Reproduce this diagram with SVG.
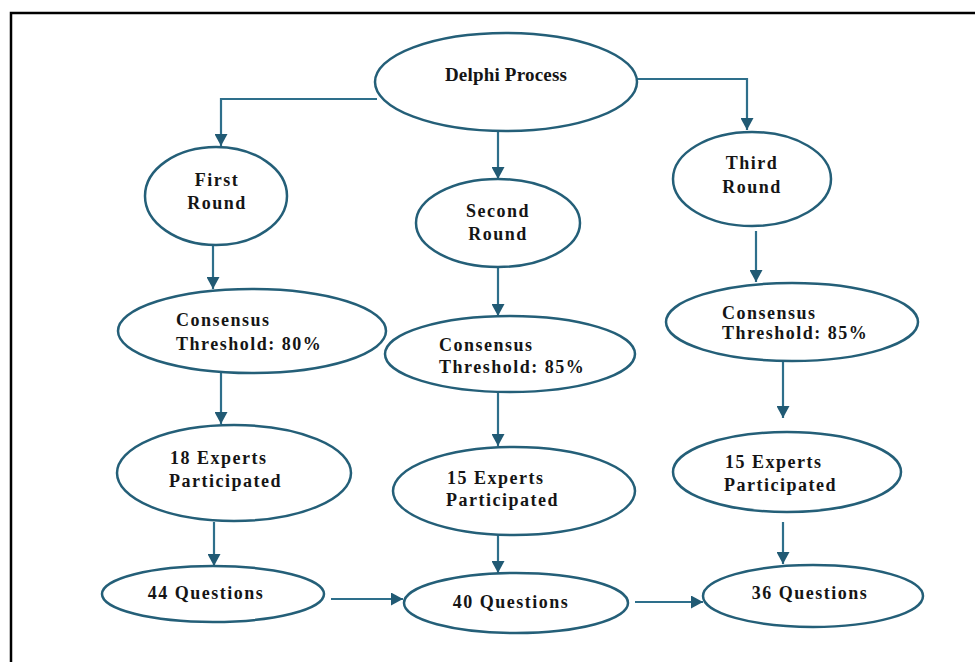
<svg xmlns="http://www.w3.org/2000/svg" width="975" height="662" viewBox="0 0 975 662">
<defs>
<style>
.node ellipse{fill:#fff;stroke:#245f78;stroke-width:2.5}
.node text{font-family:"Liberation Serif","Times New Roman",serif;font-weight:bold;font-size:18px;letter-spacing:1.5px;fill:#151515}
.c{text-anchor:middle}
.edges path{fill:none;stroke:#2e6f8b;stroke-width:2.2}
</style>
<marker id="ah" markerUnits="userSpaceOnUse" markerWidth="13" markerHeight="13" refX="12" refY="6.5" orient="auto">
<path d="M0,0 L12,6.5 L0,13 z" fill="#215a74"/>
</marker>
</defs>
<rect width="975" height="662" fill="#fff"/>
<path d="M11,662 V13 H975" fill="none" stroke="#000" stroke-width="2.5"/>
<g class="edges">
<path d="M377,99 H221 V146" marker-end="url(#ah)"/>
<path d="M498,131 V179" marker-end="url(#ah)"/>
<path d="M636,79 H747 V130" marker-end="url(#ah)"/>
<path d="M213,245 V289" marker-end="url(#ah)"/>
<path d="M221,373 V424" marker-end="url(#ah)"/>
<path d="M214,522 V566" marker-end="url(#ah)"/>
<path d="M498,267 V316" marker-end="url(#ah)"/>
<path d="M498,392 V446" marker-end="url(#ah)"/>
<path d="M498,535 V573" marker-end="url(#ah)"/>
<path d="M756,231 V282" marker-end="url(#ah)"/>
<path d="M783,362 V418" marker-end="url(#ah)"/>
<path d="M783,522 V564" marker-end="url(#ah)"/>
<path d="M331,599 H403" marker-end="url(#ah)"/>
<path d="M635,602 H703" marker-end="url(#ah)"/>
</g>
<g id="delphi" class="node"><ellipse cx="506" cy="82" rx="131" ry="49"/><text class="c" x="506" y="81" style="letter-spacing:0.2px;font-size:19px">Delphi Process</text></g>
<g id="first" class="node"><ellipse cx="216" cy="196" rx="71" ry="49"/><text class="c" x="217" y="186">First</text><text class="c" x="217" y="209">Round</text></g>
<g id="second" class="node"><ellipse cx="498" cy="223" rx="82" ry="44"/><text class="c" x="498" y="217">Second</text><text class="c" x="498" y="240">Round</text></g>
<g id="third" class="node"><ellipse cx="752" cy="179" rx="79" ry="47"/><text class="c" x="752" y="169">Third</text><text class="c" x="752" y="193">Round</text></g>
<g id="cons1" class="node"><ellipse cx="252" cy="331" rx="134" ry="42"/><text x="176" y="326">Consensus</text><text x="176" y="350">Threshold: 80%</text></g>
<g id="cons2" class="node"><ellipse cx="510" cy="354" rx="125" ry="38"/><text x="439" y="351">Consensus</text><text x="439" y="373">Threshold: 85%</text></g>
<g id="cons3" class="node"><ellipse cx="792" cy="322" rx="126" ry="39"/><text x="722" y="319">Consensus</text><text x="722" y="339">Threshold: 85%</text></g>
<g id="exp1" class="node"><ellipse cx="234" cy="473" rx="117" ry="48"/><text x="170" y="464">18 Experts</text><text x="169" y="487">Participated</text></g>
<g id="exp2" class="node"><ellipse cx="514" cy="491" rx="121" ry="44"/><text x="447" y="484">15 Experts</text><text x="446" y="506">Participated</text></g>
<g id="exp3" class="node"><ellipse cx="787" cy="472" rx="114" ry="40"/><text x="725" y="468">15 Experts</text><text x="724" y="491">Participated</text></g>
<g id="q44" class="node"><ellipse cx="213" cy="594" rx="111" ry="28"/><text class="c" x="206" y="599">44 Questions</text></g>
<g id="q40" class="node"><ellipse cx="516" cy="603" rx="112" ry="30"/><text class="c" x="511" y="608">40 Questions</text></g>
<g id="q36" class="node"><ellipse cx="813" cy="596" rx="110" ry="31"/><text class="c" x="810" y="599">36 Questions</text></g>
</svg>
